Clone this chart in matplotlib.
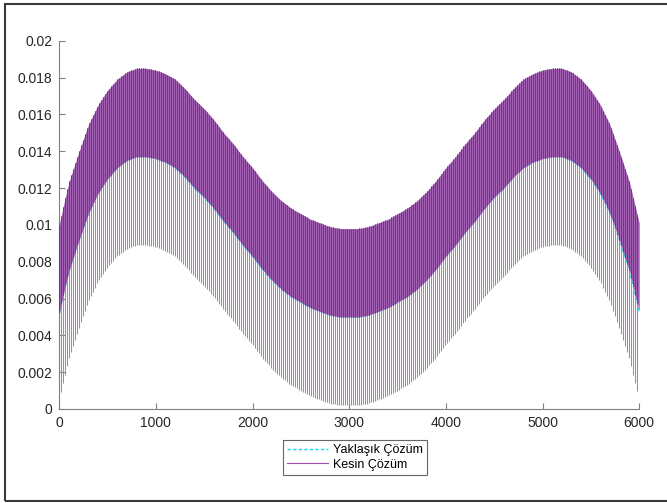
import numpy as np
import matplotlib.pyplot as plt
from matplotlib.patches import Rectangle

plt.rcParams['font.family'] = ['Liberation Sans', 'DejaVu Sans']

# middle line of the band (Yaklaşık Çözüm)
x_knots = [0, 50, 100, 150, 200, 300, 400, 500, 600, 700, 800, 900, 1000, 1100, 1200,
           1300, 1400, 1500, 1600, 1700, 1800, 1900, 2000, 2100, 2200, 2300, 2400, 2500,
           2600, 2700, 2800, 2900, 3000,
           3100, 3200, 3300, 3400, 3500, 3600, 3700, 3800, 3900, 4000, 4100, 4200, 4300,
           4400, 4500, 4600, 4700, 4800, 4900, 5000, 5100, 5200, 5300, 5400, 5500, 5600,
           5700, 5800, 5850, 5900, 5950, 6000]
mid_vals = [0.0052, 0.0064, 0.0075, 0.0083, 0.0091, 0.0106, 0.0117, 0.0125, 0.0131, 0.0135,
            0.0137, 0.0137, 0.0136, 0.0134, 0.0131, 0.0126, 0.0120, 0.0115, 0.0109, 0.0102,
            0.0096, 0.0089, 0.0083, 0.0076, 0.0070, 0.0065, 0.0061, 0.0058, 0.0055, 0.0053,
            0.0051, 0.0050, 0.0050,
            0.0050, 0.0051, 0.0053, 0.0055, 0.0058, 0.0061, 0.0065, 0.0070, 0.0076, 0.0083,
            0.0089, 0.0096, 0.0102, 0.0109, 0.0115, 0.0120, 0.0126, 0.0131, 0.0134, 0.0136,
            0.0137, 0.0137, 0.0135, 0.0131, 0.0125, 0.0117, 0.0106, 0.0091, 0.0083, 0.0075,
            0.0064, 0.0053]
half_band = 0.0048   # distance from middle line to top / bottom of the band
n_strokes = 291      # oscillation strokes of the exact solution over 0..6000

y_ticks = [0, 0.002, 0.004, 0.006, 0.008, 0.01, 0.012, 0.014, 0.016, 0.018, 0.02]
y_labels = ['0', '0.002', '0.004', '0.006', '0.008', '0.01', '0.012', '0.014', '0.016', '0.018', '0.02']
x_ticks = [0, 1000, 2000, 3000, 4000, 5000, 6000]

W, H = 667, 503
fig = plt.figure(figsize=(W / 100, H / 100), dpi=100)
ax = fig.add_axes([59.25 / W, (H - 409) / H, 580 / W, 368.3 / H])

# exact solution: fast oscillation between lower and upper envelope
xs = np.linspace(0, 6000, n_strokes)
mid = np.interp(xs, x_knots, mid_vals)

ax.vlines(xs, mid - half_band, mid + half_band, color='#B27CC3', lw=0.75, zorder=2)
approx, = ax.plot(x_knots, mid_vals, '--', color='#22D8F0', lw=1.0, dashes=(2.5, 1.5),
                  zorder=2.5)
# the upper half is denser: strokes overlap there
ax.fill_between(xs, mid, mid + half_band, color='#A462B5', lw=0, zorder=2.8)
ax.vlines(xs, mid, mid + half_band, color='#7E2F8E', lw=0.75, zorder=3)
exact_handle, = ax.plot([], [], '-', color='#9A52AD', lw=0.8)

ax.set_xlim(0, 6000)
ax.set_ylim(0, 0.02)
ax.set_xticks(x_ticks)
ax.set_xticklabels([str(t) for t in x_ticks])
ax.set_yticks(y_ticks)
ax.set_yticklabels(y_labels)

for side in ['top', 'right']:
    ax.spines[side].set_visible(False)
for side in ['left', 'bottom']:
    ax.spines[side].set_color('#808080')
    ax.spines[side].set_linewidth(0.8)
ax.tick_params(direction='in', length=4, width=0.8, color='#808080',
               labelcolor='#262626', labelsize=10, pad=5)

leg = fig.legend([approx, exact_handle], ['Yaklaşık Çözüm', 'Kesin Çözüm'],
                 loc='center', bbox_to_anchor=(355 / W, 1 - 457.5 / H), fontsize=9,
                 frameon=True, fancybox=False, handlelength=3.3, borderpad=0.35,
                 labelspacing=0.2, handletextpad=0.4, borderaxespad=0)
leg.get_frame().set_edgecolor('#404040')
leg.get_frame().set_linewidth(0.8)

# outer frame of the exported figure
fig.add_artist(Rectangle((5 / W, 2.5 / H), 1.2, (H - 6.5) / H, transform=fig.transFigure,
                         fill=False, edgecolor='#3a3a3a', lw=1.5))

fig.savefig('out.png', dpi=100)
